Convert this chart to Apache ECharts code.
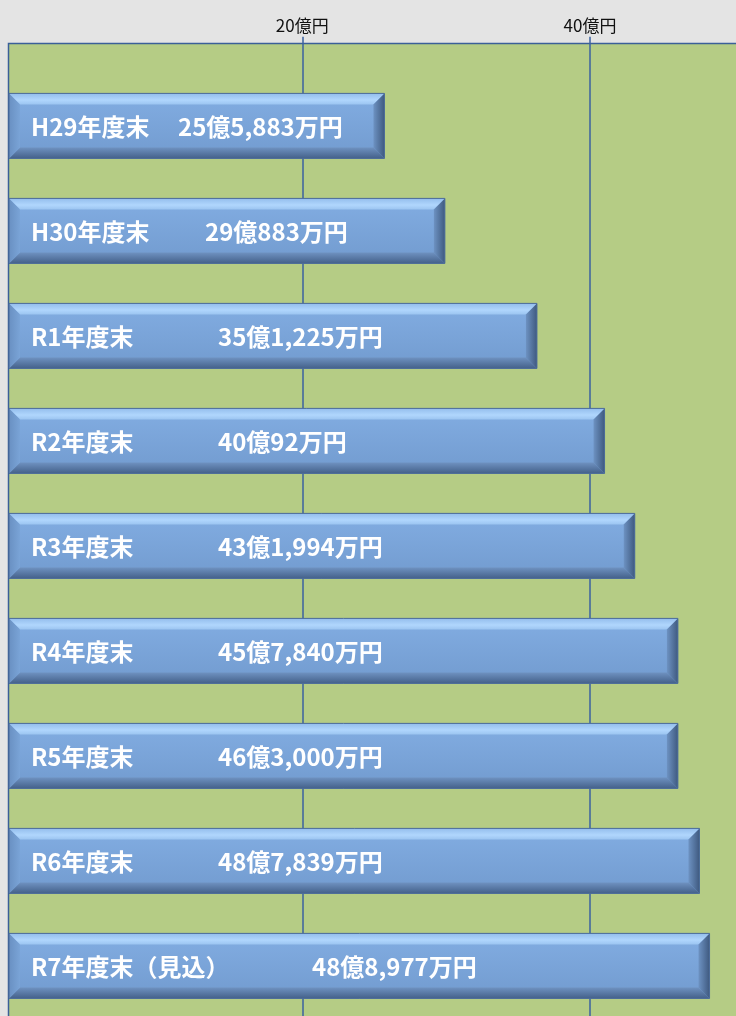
<!DOCTYPE html>
<html><head><meta charset="utf-8">
<script src="https://cdn.jsdelivr.net/npm/echarts@6/dist/echarts.min.js"></script>
<style>html,body{margin:0;padding:0;background:#e4e4e4;}#c{width:736px;height:1016px;}</style>
</head><body><div id="c"></div>
<script>
// ---- data ----
const categories = ['H29年度末','H30年度末','R1年度末','R2年度末','R3年度末','R4年度末','R5年度末','R6年度末','R7年度末（見込）'];
const valueLabels = ['25億5,883万円','29億883万円','35億1,225万円','40億92万円','43億1,994万円','45億7,840万円','46億3,000万円','48億7,839万円','48億8,977万円'];
// bar lengths as drawn in the picture (億円)
const barValues = [26.1, 30.3, 36.7, 41.4, 43.5, 46.5, 46.5, 48.0, 48.7];
const tickValues = [20, 40];
const tickLabels = ['20億円', '40億円'];

// ---- layout (text offsets from bar start, px) ----
const catTextOffset = 22;
const valueTextOffset = [169, 196, 209, 209, 209, 209, 209, 209, 303];

const FONT = '"Noto Sans CJK JP", "Noto Sans", sans-serif';
const chart = echarts.init(document.getElementById('c'), null, {renderer: 'canvas'});

function lg(x, y, x2, y2, stops) {
  return new echarts.graphic.LinearGradient(x, y, x2, y2, stops.map((c) => ({offset: c[0], color: c[1]})));
}

function renderBar(params, api) {
  const idx = api.value(1);
  const start = api.coord([0, idx]);
  const end = api.coord([api.value(0), idx]);
  const h = 65, b = 11;
  const x0 = start[0], x1 = end[0], yc = start[1];
  const y0 = yc - h / 2, y1 = yc + h / 2;
  const i = params.dataIndex;
  return {
    type: 'group',
    children: [
      {type: 'rect', shape: {x: x0, y: y0, width: x1 - x0, height: h},
       style: {fill: lg(0, 0, 0, 1, [[0, '#82ade2'], [1, '#729bcf']])}},
      {type: 'polygon', shape: {points: [[x0, y0], [x1, y0], [x1 - b, y0 + b], [x0 + b, y0 + b]]},
       style: {fill: lg(0, 0, 0, 1, [[0, '#93bdec'], [0.6, '#b0d6fd'], [1, '#9cc5f1']])}},
      {type: 'polygon', shape: {points: [[x0, y1], [x1, y1], [x1 - b, y1 - b], [x0 + b, y1 - b]]},
       style: {fill: lg(0, 0, 0, 1, [[0, '#6f92c1'], [1, '#44618a']])}},
      {type: 'polygon', shape: {points: [[x0, y0], [x0 + b, y0 + b], [x0 + b, y1 - b], [x0, y1]]},
       style: {fill: lg(0, 0, 1, 0, [[0, '#6990c2'], [1, '#7aa4d7']])}},
      {type: 'polygon', shape: {points: [[x1, y0], [x1, y1], [x1 - b, y1 - b], [x1 - b, y0 + b]]},
       style: {fill: lg(0, 0, 1, 0, [[0, '#6d92c2'], [1, '#3f5a80']])}},
      {type: 'rect', shape: {x: x0, y: y0, width: x1 - x0, height: h},
       style: {fill: 'none', stroke: '#4b6b98', lineWidth: 1}},
      {type: 'text', style: {x: x0 + catTextOffset, y: yc + 1, text: categories[i], fill: '#ffffff',
        font: 'bold 24px ' + FONT, verticalAlign: 'middle', align: 'left'}},
      {type: 'text', style: {x: x0 + valueTextOffset[i], y: yc + 1, text: valueLabels[i], fill: '#ffffff',
        font: 'bold 24px ' + FONT, verticalAlign: 'middle', align: 'left'}}
    ]
  };
}

const option = {
  backgroundColor: '#e4e4e4',
  animation: false,
  grid: [
    {left: 8.5, top: 43.5, right: -30, bottom: -30, show: true, backgroundColor: '#b5cc85',
     borderColor: '#3b5f98', borderWidth: 1.5, outerBoundsMode: 'none', containLabel: false},
    {left: 14.6, top: 36.7, width: 863.1, bottom: -10, show: false, outerBoundsMode: 'none', containLabel: false},
    {left: 9, top: 73.4, width: 863.1, height: 945, show: false, outerBoundsMode: 'none', containLabel: false}
  ],
  xAxis: [
    {gridIndex: 0, type: 'value', show: false},
    {gridIndex: 1, type: 'value', position: 'top', min: 0, max: 60, interval: 20,
     axisLine: {show: false}, axisTick: {show: false},
     splitLine: {show: true, showMinLine: false, lineStyle: {color: '#3b62a0', width: 1.5}},
     axisLabel: {margin: 3, color: '#111', fontFamily: FONT, fontSize: 17,
       formatter: v => { const k = tickValues.indexOf(v); return k >= 0 ? tickLabels[k] : ''; }}},
    {gridIndex: 2, type: 'value', min: 0, max: 60, show: false}
  ],
  yAxis: [
    {gridIndex: 0, type: 'value', show: false},
    {gridIndex: 1, type: 'value', show: false},
    {gridIndex: 2, type: 'category', data: categories, inverse: true, show: false}
  ],
  series: [{
    type: 'custom',
    xAxisIndex: 2, yAxisIndex: 2,
    encode: {x: 0, y: 1},
    data: barValues.map((v, i) => [v, categories[i]]),
    renderItem: renderBar,
    z: 5
  }]
};
chart.setOption(option);
</script>
</body></html>
